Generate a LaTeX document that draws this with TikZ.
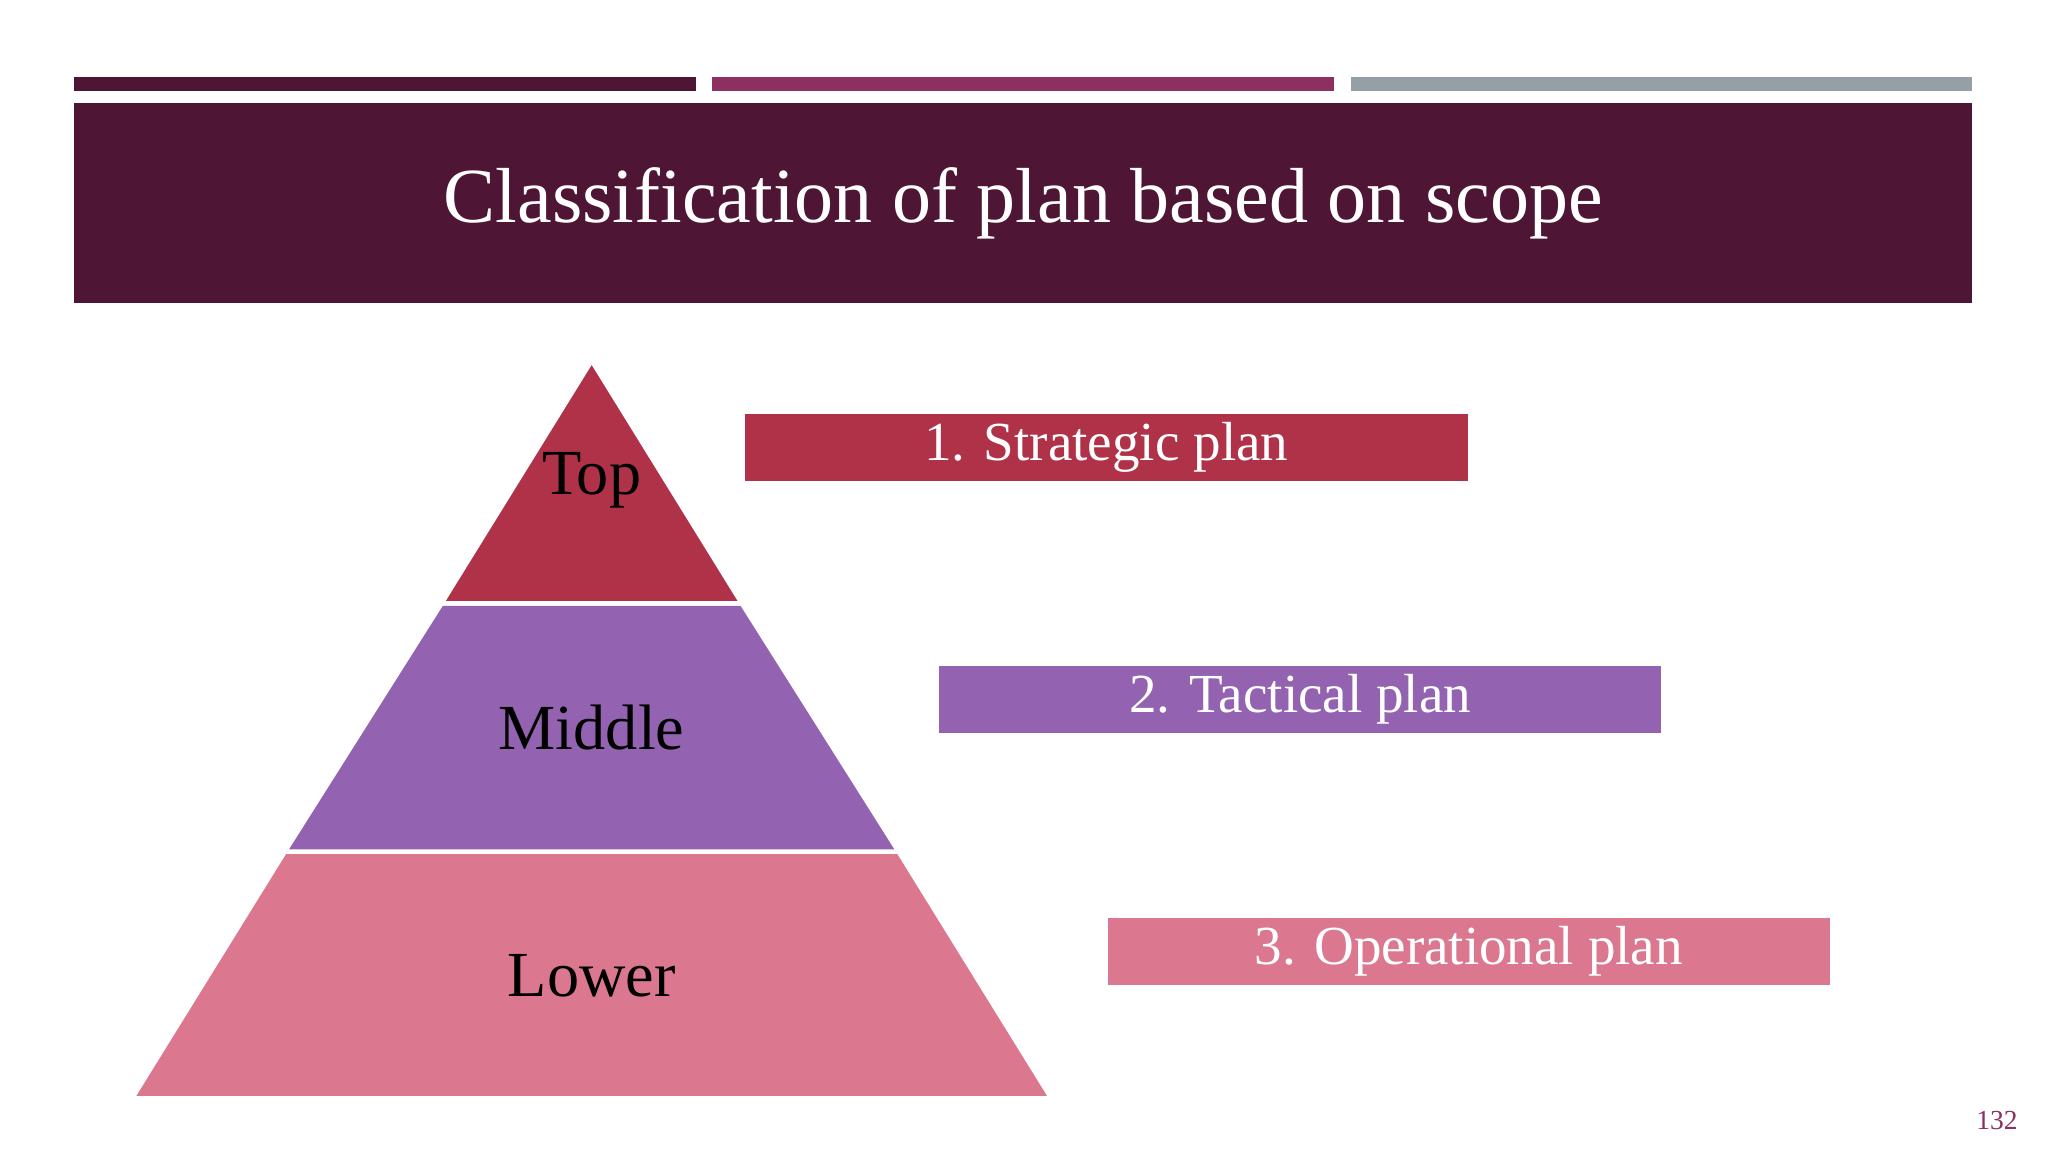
\documentclass[tikz,border=0pt]{standalone}
\usepackage{fontspec}
\setmainfont{Liberation Serif}
\definecolor{dark}{HTML}{4F1535}
\definecolor{plum}{HTML}{8B3060}
\definecolor{greyb}{HTML}{959FA6}
\definecolor{red1}{HTML}{B03249}
\definecolor{purp}{HTML}{9362B0}
\definecolor{pink}{HTML}{DB788F}
\tikzset{
  bar/.style={fill=#1, draw=none},
  planbox/.style={fill=#1, draw=none, text=white, font=\fontsize{24}{28}\selectfont, inner sep=0pt},
  lvl/.style={text=black, font=\fontsize{28}{32}\selectfont},
  seg/.style={fill=#1, draw=white, line width=2pt}
}
\begin{document}
\begin{tikzpicture}[x=0.02cm,y=-0.02cm]
\useasboundingbox[fill=white] (0,0) rectangle (1568,882);
\fill[bar=dark] (57,59) rectangle (533,70);
\fill[bar=plum] (545,59) rectangle (1021,70);
\fill[bar=greyb] (1034,59) rectangle (1510,70);
\node[fill=dark, minimum width=1453*0.02cm, minimum height=153*0.02cm, inner sep=0pt, text=white, font=\fontsize{34}{40}\selectfont] (title) at (783.5,155.5) {Classification of plan based on scope};
% pyramid
\path[seg=pink] (218,652) -- (688,652) -- (805,841) -- (101,841) -- cycle;
\path[seg=purp] (338,462) -- (568,462) -- (688,652) -- (218,652) -- cycle;
\path[seg=red1] (453,276) -- (568,462) -- (338,462) -- cycle;
\node[lvl] (top) at (453,368) {Top};
\node[lvl] (mid) at (453,557) {Middle};
\node[lvl] (low) at (453,747) {Lower};
\node[planbox=red1, minimum width=554*0.02cm, minimum height=51*0.02cm] (p1) at (847,342.5) {1. Strategic plan};
\node[planbox=purp, minimum width=553*0.02cm, minimum height=51*0.02cm] (p2) at (995.5,535.5) {2. Tactical plan};
\node[planbox=pink, minimum width=553*0.02cm, minimum height=51*0.02cm] (p3) at (1124.5,728.5) {3. Operational plan};
\node[text=plum, font=\fontsize{12}{14}\selectfont] (pg) at (1529,858) {132};
\end{tikzpicture}
\end{document}
